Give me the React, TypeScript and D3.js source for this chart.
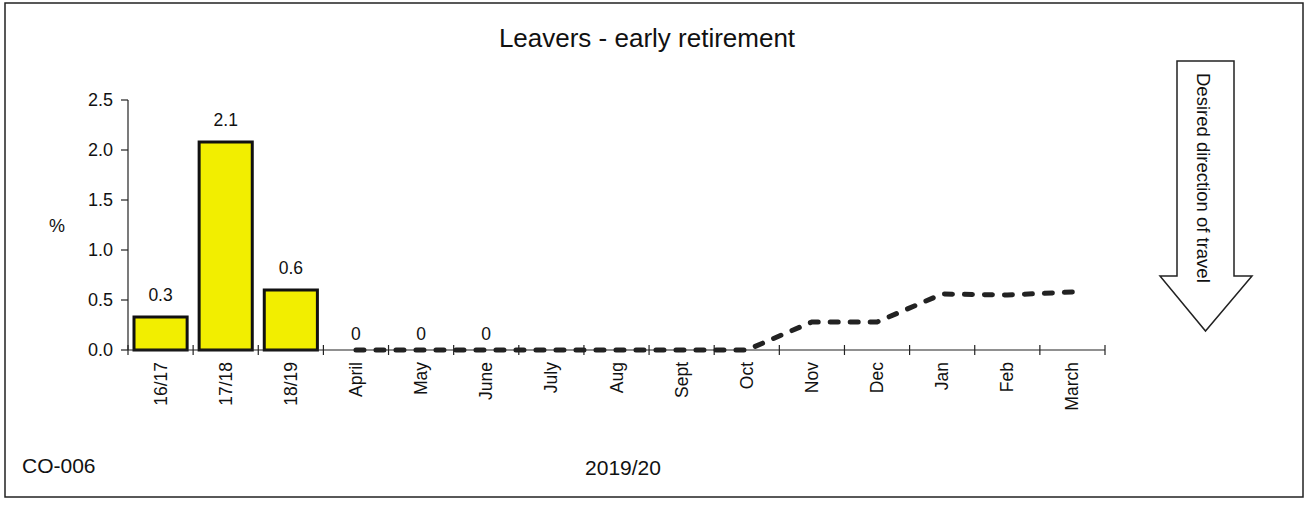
import React from "react";
import * as d3 from "d3";

const categories = ["16/17", "17/18", "18/19", "April", "May", "June", "July", "Aug", "Sept", "Oct", "Nov", "Dec", "Jan", "Feb", "March"];
const barCategories = ["16/17", "17/18", "18/19"];
const barValues = [0.33, 2.08, 0.6];
const barLabels = ["0.3", "2.1", "0.6"];
const monthCategories = ["April", "May", "June", "July", "Aug", "Sept", "Oct", "Nov", "Dec", "Jan", "Feb", "March"];
const monthValues = [0, 0, 0, 0, 0, 0, 0, 0.28, 0.28, 0.56, 0.55, 0.58];
const monthLabels = ["0", "0", "0"];
const yTicks = [0, 0.5, 1.0, 1.5, 2.0, 2.5];

const W = 1310, H = 506;
const FONT = "'Liberation Sans', Arial, sans-serif";

export default function App() {
  const x = d3.scaleBand<string>().domain(categories).range([128, 1105]).paddingInner(0).paddingOuter(0);
  const y = d3.scaleLinear().domain([0, 2.5]).range([350, 100]);
  const bw = x.bandwidth();
  const line = d3.line<number>()
    .x((_, i) => (x(monthCategories[i]) as number) + bw / 2)
    .y((d) => y(d));

  const tickEdges = categories.map((c) => x(c) as number).concat([x.range()[1]]);

  // arrow geometry
  const ax0 = 1177, ax1 = 1234, aTop = 61, aNeck = 276, wing0 = 1160, wing1 = 1252, tipY = 331;
  const tipX = (ax0 + ax1) / 2;
  const arrowPts = [
    [ax0, aTop], [ax1, aTop], [ax1, aNeck], [wing1, aNeck], [tipX, tipY], [wing0, aNeck], [ax0, aNeck],
  ].map((p) => p.join(",")).join(" ");

  return (
    <svg width={W} height={H} style={{ position: "absolute", left: 0, top: 0, background: "#fff" }} fontFamily={FONT}>
      <rect x={5} y={3} width={1298} height={494} fill="#fff" stroke="#222" strokeWidth={1.5} />
      <text x={647} y={47} textAnchor="middle" fontSize={26} fill="#111">Leavers - early retirement</text>

      {/* y axis */}
      <line x1={128} x2={128} y1={y(2.5)} y2={y(0)} stroke="#222" strokeWidth={1.2} />
      {yTicks.map((t) => (
        <g key={t}>
          <line x1={121} x2={128} y1={y(t)} y2={y(t)} stroke="#222" strokeWidth={1.2} />
          <text x={113} y={y(t) + 6} textAnchor="end" fontSize={18} fill="#111">{t.toFixed(1)}</text>
        </g>
      ))}
      <text x={57} y={232} textAnchor="middle" fontSize={18} fill="#111">%</text>

      {/* bars */}
      {barCategories.map((c, i) => (
        <g key={c}>
          <rect x={(x(c) as number) + 6} y={y(barValues[i])} width={bw - 12} height={y(0) - y(barValues[i])}
            fill="#f2ee00" stroke="#111" strokeWidth={3} />
          <text x={(x(c) as number) + bw / 2} y={y(barValues[i]) - 16} textAnchor="middle" fontSize={17.5} fill="#111">{barLabels[i]}</text>
        </g>
      ))}

      {/* x axis */}
      <line x1={128} x2={1105} y1={350} y2={350} stroke="#222" strokeWidth={1.2} />
      {tickEdges.map((e, i) => (
        <line key={i} x1={e} x2={e} y1={345} y2={355} stroke="#222" strokeWidth={1.2} />
      ))}
      {categories.map((c) => (
        <text key={c} transform={`translate(${(x(c) as number) + bw / 2 + 6},362) rotate(-90)`} textAnchor="end" fontSize={17.5} fill="#111">{c}</text>
      ))}

      {/* line */}
      <path d={line(monthValues) as string} fill="none" stroke="#222" strokeWidth={5} strokeDasharray="8 12" strokeLinecap="round" />
      {monthLabels.map((l, i) => (
        <text key={i} x={(x(monthCategories[i]) as number) + bw / 2} y={y(monthValues[i]) - 10} textAnchor="middle" fontSize={17.5} fill="#111">{l}</text>
      ))}

      {/* arrow */}
      <polygon points={arrowPts} fill="#fff" stroke="#222" strokeWidth={1.5} />
      <text transform={`translate(${1197},73) rotate(90)`} fontSize={18.5} fill="#111">Desired direction of travel</text>

      <text x={22} y={473} fontSize={21} fill="#111">CO-006</text>
      <text x={623} y={475} textAnchor="middle" fontSize={21} fill="#111">2019/20</text>
    </svg>
  );
}
